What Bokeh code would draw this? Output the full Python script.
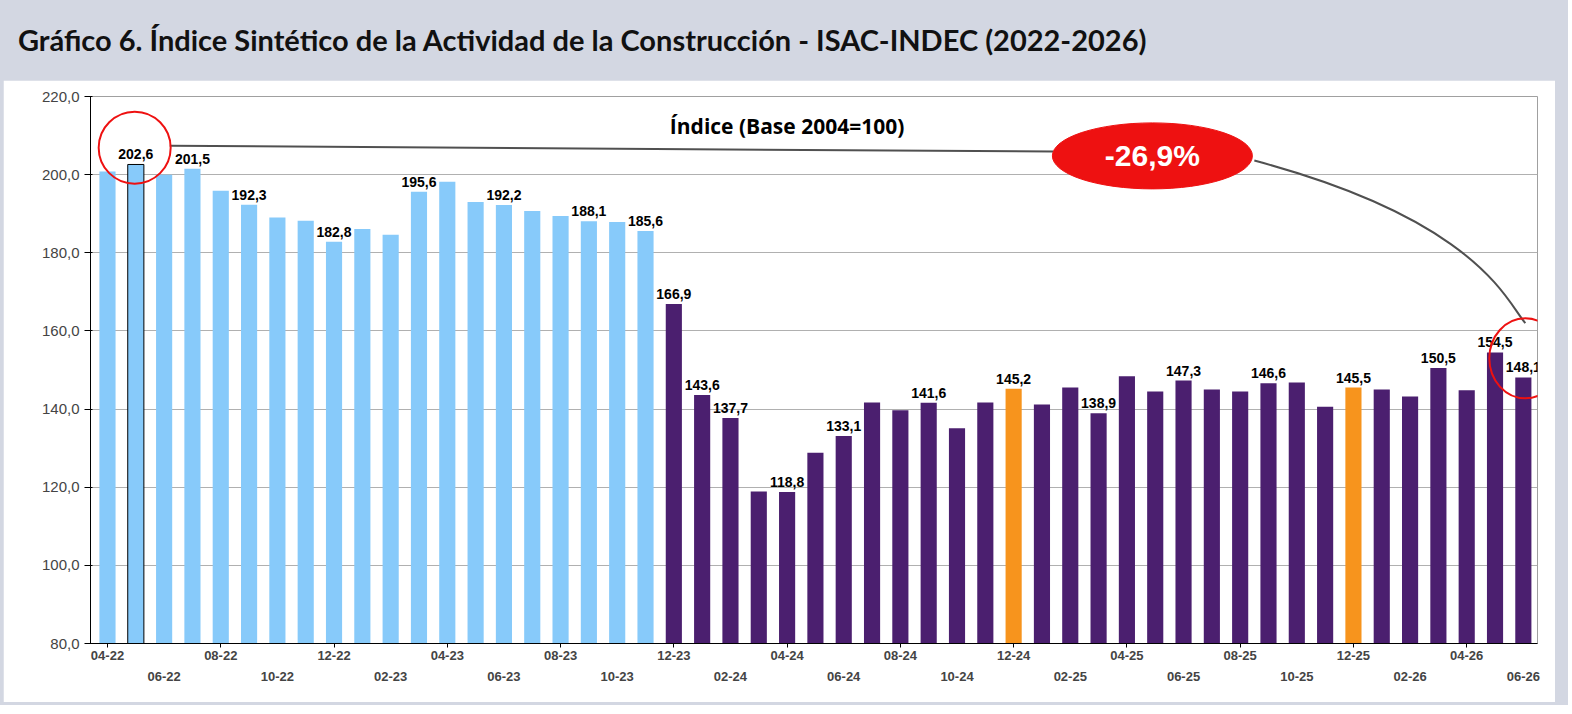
from bokeh.plotting import figure
from bokeh.models import ColumnDataSource, Div, FixedTicker, CustomJSTickFormatter, LinearAxis, Range1d
from bokeh.layouts import column
from bokeh.core.properties import value
from bokeh.embed import file_html
from bokeh.resources import INLINE

months = ["04-22","05-22","06-22","07-22","08-22","09-22","10-22","11-22","12-22",
          "01-23","02-23","03-23","04-23","05-23","06-23","07-23","08-23","09-23","10-23","11-23","12-23",
          "01-24","02-24","03-24","04-24","05-24","06-24","07-24","08-24","09-24","10-24","11-24","12-24",
          "01-25","02-25","03-25","04-25","05-25","06-25","07-25","08-25","09-25","10-25","11-25","12-25",
          "01-26","02-26","03-26","04-26","05-26","06-26"]
values = [200.8,202.6,200.0,201.5,195.9,192.3,189.0,188.2,182.8,186.1,184.6,195.6,198.2,193.0,192.2,190.7,189.4,188.1,187.9,185.6,166.9,
          143.6,137.7,118.9,118.8,128.8,133.1,141.7,139.7,141.6,135.1,141.7,145.2,
          141.2,145.5,138.9,148.4,144.5,147.3,145.0,144.5,146.6,146.8,140.6,145.5,
          145.0,143.2,150.5,144.8,154.5,148.1]
labeled = ["05-22","07-22","09-22","12-22","03-23","06-23","09-23","11-23","12-23","01-24","02-24","04-24",
           "06-24","09-24","12-24","03-25","06-25","09-25","12-25","03-26","05-26","06-26"]
highlight = ["12-24","12-25"]

C_BLUE, C_PURPLE, C_ORANGE = "#87cafa", "#4b1f6f", "#f7941d"
xs = list(range(len(months)))
colors = []
for i, m in enumerate(months):
    if i < 20: colors.append(C_BLUE)
    elif m in highlight: colors.append(C_ORANGE)
    else: colors.append(C_PURPLE)
lines = ["black" if m == "05-22" else None for m in months]
src = ColumnDataSource(dict(x=xs, top=values, color=colors, lc=lines))

p = figure(width=1552, height=622, output_backend="svg", toolbar_location=None,
           x_range=Range1d(-0.6, len(months) - 0.5), y_range=Range1d(80, 220),
           min_border_left=87, min_border_right=18, min_border_top=16, min_border_bottom=59)
p.background_fill_color = "white"
p.border_fill_color = "white"
p.outline_line_color = "#a0a0a0"
p.vbar(x="x", top="top", bottom=80, width=0.57, fill_color="color", line_color="lc", source=src)

lx = [months.index(m) for m in labeled]
ly = [values[i] for i in lx]
lt = [f"{values[i]:.1f}".replace(".", ",") for i in lx]
p.text(x=lx, y=ly, text=lt, text_align="center", text_baseline="bottom", y_offset=-5,
       text_font=value("Liberation Sans"), text_font_style="bold", text_font_size="14px", text_color="black")

p.text(x=[24], y=[212.5], text=["Índice (Base 2004=100)"], text_align="center", text_baseline="middle",
       text_font=value("Open Sans"), text_font_style="bold", text_font_size="21px")

# connector
p.line(x=[2.2, 33.4], y=[207.4, 205.9], line_color="#505050", line_width=2)
p.bezier(x0=[40.5], y0=[203.6], x1=[50.07], y1=[162.0], cx0=[48.4], cy0=[188.3], cx1=[49.4], cy1=[167.6],
         line_color="#505050", line_width=2)
p.ellipse(x=[36.9], y=[204.8], width=200, height=66, width_units="screen", height_units="screen",
          fill_color="#ee1111", line_color="#ee1111")
p.text(x=[36.9], y=[204.8], text=["-26,9%"], text_align="center", text_baseline="middle",
       text_font=value("Liberation Sans"), text_font_style="bold", text_font_size="30px", text_color="white")
p.ellipse(x=[0.96, 50.07], y=[206.9, 153.0], width=[72, 72], height=[72, 80], width_units="screen",
          height_units="screen", fill_color=None, line_color="#ee1111", line_width=2)

p.yaxis.ticker = FixedTicker(ticks=list(range(80, 221, 20)))
p.yaxis.formatter = CustomJSTickFormatter(code="return tick.toFixed(1).replace('.', ',');")
p.yaxis.major_label_text_font = "Liberation Sans"
p.yaxis.major_label_text_font_size = "15px"
p.yaxis.minor_tick_line_color = None
p.ygrid.grid_line_color = "#b0b0b0"
p.xgrid.grid_line_color = None

row1 = {i: months[i] for i in range(0, len(months), 4)}
row2 = {i: months[i] for i in range(2, len(months), 4)}
p.xaxis.ticker = FixedTicker(ticks=sorted(row1))
p.xaxis.major_label_overrides = row1
ax2 = LinearAxis(ticker=FixedTicker(ticks=sorted(row2)), major_label_overrides=row2)
ax2.axis_line_color = None
ax2.major_tick_line_color = None
p.add_layout(ax2, "below")
for ax in (p.xaxis[0], ax2):
    ax.major_label_text_font = "Liberation Sans"
    ax.major_label_text_font_style = "bold"
    ax.major_label_text_font_size = "13px"
    ax.minor_tick_line_color = None
    ax.major_label_standoff = 3
p.xaxis[0].major_tick_in = 0
p.xaxis[0].major_tick_out = 4

title = Div(text="Gráfico 6. Índice Sintético de la Actividad de la Construcción - ISAC-INDEC (2022-2026)",
            width=1552, height=70,
            styles={"font-family": "Lato", "font-weight": "bold", "font-size": "29px", "color": "#111",
                    "padding-left": "10px", "line-height": "70px"})
lay = column(title, p, styles={"background-color": "#d3d7e2", "padding": "0 3px 3px 3px"}, spacing=0)
open("out.html", "w").write(file_html(lay, INLINE))
